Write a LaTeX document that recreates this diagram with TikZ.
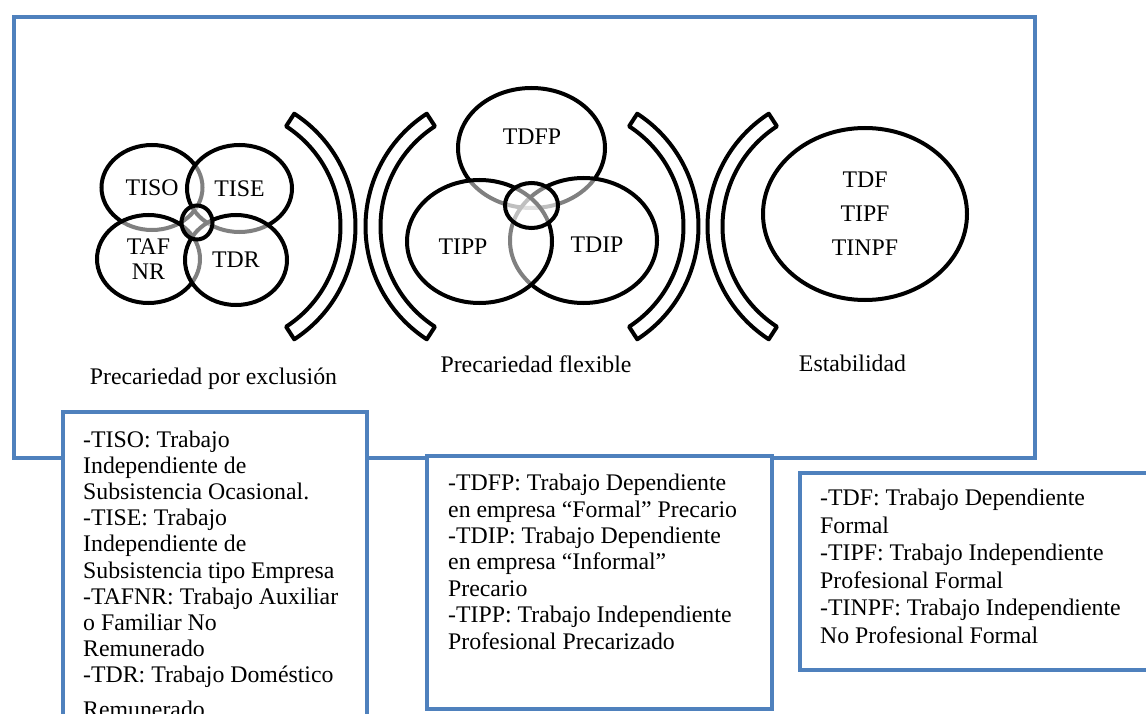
\documentclass[tikz,border=0pt]{standalone}
\usepackage{fontspec}
\setmainfont{Liberation Serif}
\usetikzlibrary{shapes.geometric,calc}
\definecolor{boxblue}{HTML}{4F81BD}
\begin{document}
\begin{tikzpicture}[x=1pt,y=-1pt,
  font=\fontsize{23.8}{26.2}\selectfont,
  blob/.style={ellipse, draw=black, line width=4pt, fill=white, fill opacity=0.5, text opacity=1, draw opacity=1, inner sep=0pt, align=center},
  arcband/.style={draw=black, line width=4pt, line join=round, fill=white},
  frame/.style={rectangle, draw=boxblue, line width=4pt, fill=white, inner sep=0pt, anchor=north west},
  txt/.style={inner sep=0pt}
]
\useasboundingbox (0,0) rectangle (1146,714);
\clip (0,0) rectangle (1146,714);

% outer frame
\node[frame, fill=none, minimum width=1021pt, minimum height=441.5pt] (outer) at (11.7,14.7) {};

% left group
\node[blob, minimum width=101pt, minimum height=85pt] (tiso) at (152,187.5) {TISO};
\node[blob, minimum width=105pt, minimum height=87pt] (tise) at (239.5,188.5) {TISE};
\node[blob, minimum width=103pt, minimum height=88pt, font=\fontsize{23.8}{25}\selectfont] (tafnr) at (148.5,259) {TAF\\NR};
\node[blob, minimum width=102pt, minimum height=90pt] (tdr) at (236,260) {TDR};
\node[blob, minimum width=31pt, minimum height=34pt] (c1) at (197,222.5) {};

% middle group
\node[blob, minimum width=147pt, minimum height=120pt] (tdfp) at (531.5,148) {};
\node[blob, minimum width=147pt, minimum height=125pt] (tdip) at (583.5,240.5) {};
\node[blob, minimum width=145pt, minimum height=123pt] (tipp) at (479.5,241.5) {};
\node[blob, minimum width=53pt, minimum height=45pt] (c2) at (531.5,205.5) {};
\node[txt] (ttdfp) at (532,137) {TDFP};
\node[txt] (ttipp) at (463,247) {TIPP};
\node[txt] (ttdip) at (597,245) {TDIP};

% right ellipse
\node[blob, minimum width=204pt, minimum height=172pt, font=\fontsize{23.8}{34}\selectfont] (stab) at (865,214) {TDF\\TIPF\\TINPF};

% bracket bands
\coordinate (b1) at (221,226.5);
\coordinate (b2) at (500,226.5);
\coordinate (b3) at (564,226.5);
\coordinate (b4) at (842,226.5);
\draw[arcband] (b1) ++(57:134.5) arc[start angle=57, end angle=-57, radius=134.5] -- ++(-57:-15) arc[start angle=-57, end angle=57, radius=119.5] -- cycle;
\draw[arcband] (b2) ++(123:134.5) arc[start angle=123, end angle=237, radius=134.5] -- ++(237:-15) arc[start angle=237, end angle=123, radius=119.5] -- cycle;
\draw[arcband] (b3) ++(57:134.5) arc[start angle=57, end angle=-57, radius=134.5] -- ++(-57:-15) arc[start angle=-57, end angle=57, radius=119.5] -- cycle;
\draw[arcband] (b4) ++(123:134.5) arc[start angle=123, end angle=237, radius=134.5] -- ++(237:-15) arc[start angle=237, end angle=123, radius=119.5] -- cycle;

% labels
\node[txt, anchor=base] (lab1) at (213.5,384) {Precariedad por exclusión};
\node[txt, anchor=base] (lab2) at (536,372) {Precariedad flexible};
\node[txt, anchor=base] (lab3) at (852.5,371) {Estabilidad};

% legend boxes
\node[frame, minimum width=304pt, minimum height=330pt] (box1) at (61,410) {};
\node[frame, minimum width=344.5pt, minimum height=253pt] (box2) at (425,454) {};
\node[frame, minimum width=360pt, minimum height=197.3pt] (box3) at (798,470.7) {};

\node[txt, anchor=base west] (text1) at (83,447) {\vtop{%
\hbox{-TISO: Trabajo}
\hbox{Independiente de}
\hbox{Subsistencia Ocasional.}
\hbox{-TISE: Trabajo}
\hbox{Independiente de}
\hbox{Subsistencia tipo Empresa}
\hbox{-TAFNR: Trabajo Auxiliar}
\hbox{o Familiar No}
\hbox{Remunerado}
\hbox{-TDR: Trabajo Doméstico}
\vskip 8pt
\hbox{Remunerado}}};

\node[txt, anchor=base west] (text2) at (448,490.7) {\vtop{\baselineskip=26.4pt
\hbox{-TDFP: Trabajo Dependiente}
\hbox{en empresa “Formal” Precario}
\hbox{-TDIP: Trabajo Dependiente}
\hbox{en empresa “Informal”}
\hbox{Precario}
\hbox{-TIPP: Trabajo Independiente}
\hbox{Profesional Precarizado}}};

\node[txt, anchor=base west] (text3) at (820,505.5) {\vtop{\baselineskip=27.5pt
\hbox{-TDF: Trabajo Dependiente}
\hbox{Formal}
\hbox{-TIPF: Trabajo Independiente}
\hbox{Profesional Formal}
\hbox{-TINPF: Trabajo Independiente}
\hbox{No Profesional Formal}}};
\end{tikzpicture}
\end{document}
